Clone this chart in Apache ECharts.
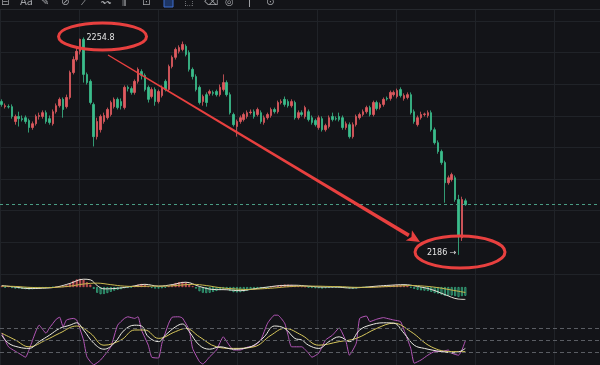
<!DOCTYPE html>
<html><head><meta charset="utf-8">
<script src="https://cdn.jsdelivr.net/npm/echarts@6/dist/echarts.min.js"></script>
<style>html,body{margin:0;padding:0;background:#131418;}#c{width:600px;height:365px;}</style>
</head><body><div id="c"></div>
<script>
// ---- price candles ----
const opens=[2234.5,2232.9,2232.9,2232.9,2228.2,2229.8,2229.1,2229.4,2228.5,2226.3,2227.5,2229.8,2229.8,2231.0,2229.1,2227.5,2231.3,2233.2,2235.2,2232.9,
2235.8,2243.7,2247.8,2250.4,2254.2,2243.1,2240.9,2233.6,2223.4,2225.6,2228.2,2229.4,2230.4,2232.9,2235.2,2234.5,2232.6,2239.0,2238.6,2237.4,
2240.9,2244.0,2242.8,2239.0,2236.1,2238.3,2234.5,2236.4,2240.9,2238.3,2245.6,2248.5,2250.4,2251.0,2252.0,2250.0,2244.7,2242.4,2239.0,2234.5,
2236.7,2237.1,2237.4,2237.7,2236.7,2238.3,2240.5,2236.7,2230.4,2226.6,2228.2,2228.8,2229.8,2231.0,2231.3,2230.4,2231.0,2227.9,2229.4,2230.1,
2232.0,2231.3,2234.2,2235.2,2234.5,2233.2,2234.2,2229.4,2231.0,2229.8,2231.3,2229.4,2228.5,2226.3,2229.1,2225.6,2226.6,2229.8,2229.1,2229.8,
2229.4,2226.3,2227.2,2223.4,2227.2,2229.4,2230.4,2231.3,2232.6,2230.4,2234.2,2232.6,2233.6,2235.5,2235.5,2236.7,2236.1,2238.3,2235.5,2235.8,
2236.7,2231.3,2227.2,2229.4,2230.4,2230.1,2231.0,2225.6,2221.5,2218.7,2215.2,2208.8,2209.8,2210.4,2203.5,2191.4,2203.1];
const closes=[2233.6,2233.2,2232.8,2229.8,2229.8,2229.1,2228.8,2228.2,2226.3,2227.5,2229.8,2230.1,2231.0,2228.2,2227.9,2231.3,2233.2,2235.2,2232.0,2235.8,
2243.7,2247.8,2250.4,2254.2,2243.1,2240.5,2234.2,2223.4,2228.2,2229.8,2230.1,2232.0,2234.2,2235.2,2232.6,2233.2,2239.0,2238.6,2237.4,2240.9,
2244.7,2242.8,2238.3,2235.2,2238.3,2234.5,2237.7,2239.0,2238.3,2245.6,2248.5,2251.0,2251.6,2252.6,2249.4,2244.7,2242.4,2238.3,2234.2,2236.1,
2234.2,2237.7,2237.1,2236.7,2239.0,2240.5,2236.7,2231.0,2227.2,2228.2,2229.4,2230.4,2231.0,2231.2,2229.8,2232.0,2228.2,2229.4,2230.4,2232.0,
2231.3,2234.2,2234.5,2233.6,2233.2,2234.5,2229.4,2231.0,2230.4,2232.6,2228.8,2227.9,2227.2,2229.4,2225.6,2226.9,2229.4,2228.8,2229.0,2228.8,
2226.3,2227.5,2223.4,2227.2,2229.8,2230.4,2231.3,2232.6,2230.4,2234.2,2232.3,2233.6,2235.2,2235.3,2237.4,2237.4,2238.0,2236.4,2236.4,2236.7,
2231.0,2228.2,2229.4,2230.4,2230.6,2231.0,2225.6,2221.5,2218.7,2215.2,2208.8,2210.4,2211.4,2203.5,2191.7,2203.5,2201.9];
const lows=[2232.9,2232.3,2232.3,2229.1,2227.2,2226.6,2228.2,2227.5,2224.7,2225.6,2226.9,2228.8,2229.1,2227.5,2227.2,2226.9,2230.7,2232.6,2229.4,2232.3,
2235.2,2243.1,2247.2,2249.4,2240.5,2239.9,2233.6,2220.3,2222.5,2224.7,2227.5,2228.8,2229.8,2232.3,2232.0,2232.0,2232.0,2237.7,2236.7,2236.7,
2240.2,2241.5,2237.7,2234.2,2235.5,2233.2,2233.9,2235.8,2237.7,2237.7,2245.0,2247.8,2249.7,2250.4,2248.8,2244.0,2241.5,2237.7,2233.6,2233.2,
2232.9,2236.4,2236.4,2236.1,2236.1,2237.7,2236.1,2230.4,2226.6,2223.4,2227.5,2228.2,2229.1,2230.4,2229.1,2229.8,2227.5,2227.2,2228.8,2229.4,
2230.7,2230.7,2233.6,2232.9,2232.6,2232.6,2228.8,2228.8,2229.8,2229.1,2228.2,2227.2,2226.6,2225.6,2225.0,2225.0,2226.0,2228.2,2228.5,2228.2,
2225.6,2225.6,2222.8,2222.8,2226.6,2228.8,2229.8,2230.7,2229.8,2229.8,2231.7,2232.0,2232.9,2234.8,2234.8,2236.1,2235.5,2235.8,2234.8,2235.2,
2230.4,2227.5,2226.6,2228.8,2229.8,2229.4,2225.0,2220.9,2218.0,2214.5,2202.5,2208.2,2209.2,2202.8,2186.0,2190.4,2201.5];
const highs=[2235.2,2233.9,2233.6,2233.6,2230.4,2231.3,2230.1,2230.1,2229.1,2228.2,2230.4,2231.0,2231.7,2231.7,2230.1,2232.0,2233.9,2235.8,2235.8,2236.7,
2244.3,2248.8,2251.6,2254.4,2254.8,2243.7,2241.5,2234.2,2229.4,2230.4,2231.0,2232.6,2234.8,2235.8,2235.8,2235.5,2239.6,2239.6,2239.3,2241.5,
2245.3,2244.7,2243.4,2239.6,2239.0,2239.0,2238.3,2239.6,2241.5,2246.2,2249.1,2251.6,2252.3,2253.5,2252.6,2250.7,2245.3,2243.1,2239.6,2236.7,
2237.4,2238.3,2238.0,2238.3,2239.9,2243.1,2241.2,2237.4,2231.0,2228.8,2230.1,2231.0,2231.7,2232.0,2232.0,2232.6,2231.7,2230.1,2231.0,2232.6,
2232.6,2234.8,2235.2,2236.1,2235.2,2235.2,2234.8,2231.7,2231.7,2233.2,2232.0,2230.1,2229.1,2230.1,2229.8,2227.5,2230.1,2231.0,2229.8,2231.0,
2230.1,2228.2,2227.9,2227.9,2230.4,2231.0,2232.0,2233.2,2233.2,2234.8,2234.8,2234.2,2235.8,2236.1,2238.0,2238.0,2238.6,2239.0,2237.1,2237.4,
2237.4,2232.0,2230.1,2231.3,2231.0,2231.7,2231.7,2226.3,2222.2,2219.3,2215.8,2211.1,2212.0,2211.1,2205.0,2204.4,2203.8];
// ---- MACD ----
const macdHist=[0.3,-0.2,0.2,-0.3,-0.5,-0.5,-0.6,-0.7,-0.8,-0.7,-0.6,-0.5,-0.4,-0.4,-0.3,-0.1,0.1,0.3,0.2,0.6,
1.2,2.0,2.5,2.7,2.4,1.6,0.8,-0.6,-1.9,-2.4,-2.3,-2.0,-1.6,-1.2,-0.9,-0.7,-0.4,-0.3,-0.1,0.2,
0.8,1.0,0.8,0.2,-0.3,-0.5,-0.5,-0.4,-0.2,0.3,0.8,1.3,1.6,1.7,1.5,1.0,0.3,-0.5,-1.4,-1.9,
-2.0,-1.9,-1.6,-1.3,-1.0,-0.6,-0.8,-1.3,-1.7,-1.8,-1.7,-1.5,-1.2,-0.9,-0.7,-0.5,-0.5,-0.4,-0.2,0.0,
0.3,0.5,0.7,0.8,0.8,0.7,0.5,0.3,0.2,0.1,-0.1,-0.3,-0.4,-0.4,-0.5,-0.4,-0.3,-0.2,-0.2,-0.1,
-0.2,-0.3,-0.5,-0.6,-0.5,-0.3,-0.2,-0.1,0.0,0.1,0.2,0.3,0.3,0.4,0.5,0.6,0.7,0.6,0.5,0.4,
-0.1,-0.6,-0.9,-1.1,-1.2,-1.3,-1.6,-2.0,-2.2,-2.5,-2.9,-2.9,-2.8,-3.0,-3.3,-3.0,-2.9];
const difPoints=[[0,0.5],[4,0.0],[8,-0.5],[12,-0.4],[16,0.0],[20,1.2],[24,2.6],[26,2.4],[28,0.5],[30,-0.6],[34,-0.4],[38,0.2],[42,0.9],[46,0.3],[50,0.8],[54,1.6],[58,0.2],[62,-0.8],[66,-0.9],[70,-1.2],[74,-0.6],[78,0.0],[82,0.5],[86,0.6],[90,0.3],[94,0.0],[98,0.0],[102,-0.3],[106,-0.1],[110,0.3],[114,0.6],[118,0.8],[122,0.2],[126,-0.8],[130,-2.5],[134,-4.0],[136,-4.1]];
const deaPoints=[[0,0.3],[4,0.2],[8,-0.1],[12,-0.2],[16,-0.1],[20,0.3],[24,1.0],[28,1.3],[32,0.8],[36,0.3],[40,0.2],[44,0.3],[48,0.3],[52,0.6],[56,0.9],[60,0.5],[64,-0.2],[68,-0.6],[72,-0.8],[76,-0.6],[80,-0.3],[84,0.1],[88,0.3],[92,0.3],[96,0.2],[100,0.1],[104,-0.1],[108,-0.1],[112,0.1],[116,0.3],[120,0.5],[124,0.3],[128,-0.2],[132,-1.0],[136,-1.8]];
// ---- KDJ ----
const kPoints=[[0,62],[2,42],[5,32],[8,29],[11,46],[14,62],[17,79],[20,87],[22,93],[24,75],[27,42],[30,27],[33,42],[36,75],[39,87],[41,85],[43,58],[46,46],[48,62],[51,83],[53,90],[55,71],[58,37],[61,27],[64,33],[68,27],[71,29],[74,37],[77,58],[80,85],[83,79],[86,54],[88,50],[90,37],[93,29],[96,46],[99,58],[102,46],[105,75],[108,87],[112,93],[115,92],[118,67],[121,37],[124,29],[129,21],[133,18],[136,29]];
const dPoints=[[0,67],[4,50],[8,33],[13,50],[17,67],[22,85],[26,67],[30,37],[35,50],[39,75],[42,75],[46,54],[51,71],[54,79],[58,58],[63,33],[68,29],[74,33],[79,62],[83,79],[88,62],[93,37],[99,46],[104,54],[110,79],[115,92],[120,71],[126,33],[132,21],[136,21]];
const jPoints=[[0,67],[2,33],[5,17],[7,7],[8,25],[11,87],[13,67],[14,80],[16,102],[17,107],[18,83],[19,100],[21,104],[22,100],[24,50],[25,8],[27,-12],[29,0],[32,33],[34,87],[36,104],[37,108],[39,104],[40,108],[41,75],[43,37],[44,7],[46,5],[47,42],[49,92],[50,107],[52,108],[53,105],[55,75],[56,29],[58,-4],[59,-10],[61,8],[63,25],[65,58],[66,46],[68,25],[70,25],[72,32],[74,35],[76,50],[78,92],[80,112],[81,112],[83,92],[84,62],[85,33],[88,33],[90,17],[91,7],[93,17],[95,50],[97,62],[99,80],[101,46],[102,12],[104,42],[105,104],[107,110],[108,96],[110,102],[112,106],[113,104],[115,100],[117,96],[118,75],[120,29],[121,-8],[123,0],[125,12],[127,21],[129,21],[131,25],[132,17],[134,12],[135,25],[136,48]];
const kdjLevels=[20,50,80];
const highLabel='2254.8', lowLabel='2186 →';
const highIdx=24, lowIdx=134;

const SLOTS=176;
const categories=Array.from({length:SLOTS},(_,i)=>String(i));
const UP='#e05a5f', DOWN='#3bbd8c', GRID='#202328';

const chart=echarts.init(document.getElementById('c'));
const hidden={axisLine:{show:false},axisTick:{show:false},axisLabel:{show:false}};
chart.setOption({
  backgroundColor:'#131418',
  animation:false,
  grid:[
    {left:0,right:0,top:21,height:252.8},
    {left:0,right:0,top:275,height:25},
    {left:0,right:0,top:305,height:60},
    {left:-21,right:0,top:10,bottom:0}
  ],
  xAxis:[
    Object.assign({type:'category',gridIndex:0,data:categories,splitLine:{show:false}},hidden),
    Object.assign({type:'category',gridIndex:1,data:categories,splitLine:{show:false}},hidden),
    Object.assign({type:'category',gridIndex:2,data:categories,splitLine:{show:false}},hidden),
    Object.assign({type:'value',gridIndex:3,min:0,max:621,interval:82,splitLine:{show:true,lineStyle:{color:GRID,width:1}}},hidden)
  ],
  yAxis:[
    Object.assign({type:'value',gridIndex:0,min:2180,max:2260,interval:10,splitLine:{show:true,lineStyle:{color:GRID,width:1}}},hidden),
    Object.assign({type:'value',gridIndex:1,min:-4.3,max:4,splitLine:{show:false}},hidden),
    Object.assign({type:'value',gridIndex:2,min:-12.5,max:137.5,splitLine:{show:false}},hidden),
    Object.assign({type:'value',gridIndex:3,min:0,max:1,splitLine:{show:false}},hidden)
  ],
  series:[
    {type:'scatter',xAxisIndex:3,yAxisIndex:3,data:[],silent:true},
    {type:'candlestick',xAxisIndex:0,yAxisIndex:0,barWidth:2,
     data:opens.map((o,i)=>[o,closes[i],lows[i],highs[i]]),
     itemStyle:{color:UP,color0:DOWN,borderColor:UP,borderColor0:DOWN,borderWidth:0.8},
     markLine:{silent:true,symbol:'none',label:{show:false},
       lineStyle:{color:'#4a9d84',type:[3,3],width:1},
       data:[{yAxis:closes[closes.length-1]}]}},
    {type:'bar',xAxisIndex:1,yAxisIndex:1,barWidth:2,
     data:macdHist.map(v=>({value:v,itemStyle:v>=0
        ?{color:'rgba(224,90,95,0.8)',borderColor:UP,borderWidth:0.5}
        :{color:'rgba(59,189,140,0.3)',borderColor:DOWN,borderWidth:0.7}}))},
    {type:'line',xAxisIndex:1,yAxisIndex:1,data:difPoints,showSymbol:false,smooth:0.4,lineStyle:{color:'#e8e4d8',width:1}},
    {type:'line',xAxisIndex:1,yAxisIndex:1,data:deaPoints,showSymbol:false,smooth:0.4,lineStyle:{color:'#c9b84e',width:1}},
    {type:'line',xAxisIndex:2,yAxisIndex:2,data:jPoints,showSymbol:false,smooth:0.15,lineStyle:{color:'#b557b8',width:1},
     markLine:{silent:true,symbol:'none',label:{show:false},lineStyle:{color:'#5a5d63',type:[4,3],width:1},
       data:kdjLevels.map(v=>({yAxis:v}))}},
    {type:'line',xAxisIndex:2,yAxisIndex:2,data:dPoints,showSymbol:false,smooth:0.4,lineStyle:{color:'#d8c85c',width:1}},
    {type:'line',xAxisIndex:2,yAxisIndex:2,data:kPoints,showSymbol:false,smooth:0.4,lineStyle:{color:'#ecebe4',width:1}}
  ]
});

// ---- annotations anchored to the data extremes ----
const P=chart.convertToPixel({xAxisIndex:0,yAxisIndex:0},[highIdx,highs[highIdx]]);
const L=chart.convertToPixel({xAxisIndex:0,yAxisIndex:0},[lowIdx,lows[lowIdx]]);
const RED='#e8403f';
const s=[P[0]+24.5,P[1]+17.6], t=[L[0]-38.5,L[1]-12.8];
const dx=t[0]-s[0], dy=t[1]-s[1], len=Math.hypot(dx,dy), ux=dx/len, uy=dy/len, nx=-uy, ny=ux;
const hb=[t[0]-ux*13,t[1]-uy*13];
const w0=0.6,w1=1.8,hw=6;
const shaft=[[s[0]+nx*w0,s[1]+ny*w0],[hb[0]+nx*w1,hb[1]+ny*w1],[hb[0]-nx*w1,hb[1]-ny*w1],[s[0]-nx*w0,s[1]-ny*w0]];
const head=[[t[0],t[1]],[hb[0]+nx*hw,hb[1]+ny*hw],[hb[0]+ux*3,hb[1]+uy*3],[hb[0]-nx*hw,hb[1]-ny*hw]];
const icons=[['⊟',1],['Aa',20],['✎',41],['⊘',61],['⟋',81],['〰',101],['⫼',122],['⊡',142],['⬚',184],['⌫',204],['◎',225],['ǀ',248],['⊙',266]];
const graphics=[
  {type:'line',shape:{x1:0,y1:9.5,x2:600,y2:9.5},style:{stroke:'#25282d',lineWidth:1},silent:true},
  {type:'rect',shape:{x:164,y:-2,width:9,height:9},style:{fill:'#1d3564',stroke:'#3f6fd0',lineWidth:1},silent:true}
].concat(icons.map(([c,x])=>({type:'text',x:x,y:-3,style:{text:c,fill:'#a3a5a9',fontSize:10,fontFamily:'DejaVu Sans'},silent:true})))
.concat([
  {type:'polygon',shape:{points:shaft},style:{fill:RED},silent:true,z:100},
  {type:'polygon',shape:{points:head},style:{fill:RED},silent:true,z:100},
  {type:'ellipse',shape:{cx:P[0]+19,cy:P[1]-1,rx:44,ry:13.5},style:{fill:'none',stroke:RED,lineWidth:3},silent:true,z:100},
  {type:'ellipse',shape:{cx:L[0]+1.5,cy:L[1]-2.8,rx:45,ry:16},style:{fill:'none',stroke:RED,lineWidth:3},silent:true,z:100},
  {type:'text',x:P[0]+3,y:P[1],style:{text:highLabel,fill:'#e4e4e4',fontSize:8,fontFamily:'DejaVu Sans',verticalAlign:'middle',align:'left'},silent:true,z:101},
  {type:'text',x:L[0]-2,y:L[1]-2,style:{text:lowLabel,fill:'#e4e4e4',fontSize:8,fontFamily:'DejaVu Sans',verticalAlign:'middle',align:'right'},silent:true,z:101}
]);
chart.setOption({graphic:graphics});
</script></body></html>
